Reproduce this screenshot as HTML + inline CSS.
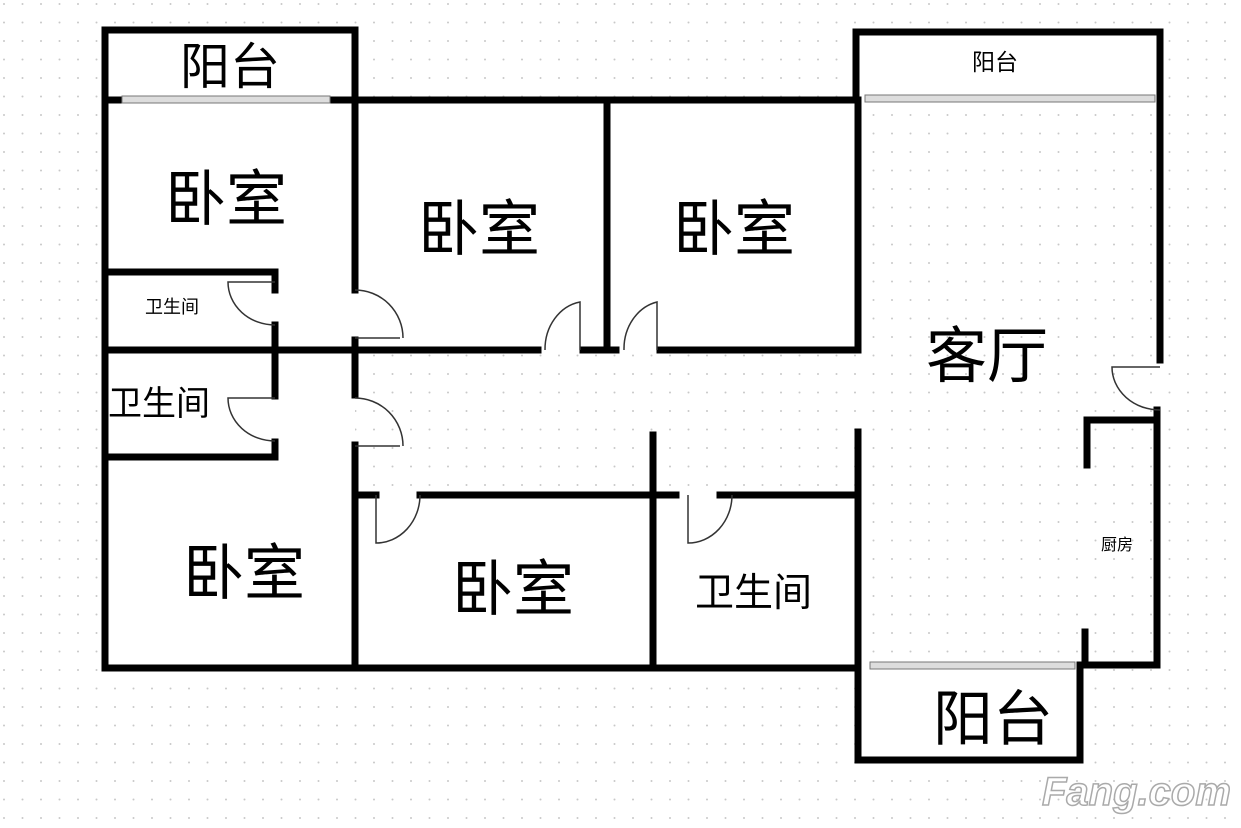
<!DOCTYPE html>
<html><head><meta charset="utf-8"><style>
html,body{margin:0;padding:0;background:#fff}
svg{display:block}
text{font-family:"Liberation Sans","Noto Sans CJK SC",sans-serif;fill:#000}
</style></head><body>
<svg width="1241" height="828" viewBox="0 0 1241 828" xmlns="http://www.w3.org/2000/svg">
<defs><pattern id="d" width="18.5" height="18.5" patternUnits="userSpaceOnUse"><circle cx="4" cy="4" r="1" fill="#c8c8c8"/></pattern></defs>
<rect width="1241" height="828" fill="#fff"/>
<rect width="1241" height="828" fill="url(#d)"/>
<g fill="#fff">
<rect x="105" y="30" width="250" height="638"/>
<rect x="355" y="100" width="503" height="250"/>
<rect x="355" y="495" width="503" height="173"/>
<rect x="858" y="32" width="302" height="68"/>
<rect x="858" y="665" width="222" height="95"/>
</g>
<g stroke="#000" stroke-width="7" fill="none" stroke-linecap="square">
<path d="M105,30 H355 V100"/>
<path d="M105,30 V668 H858"/>
<path d="M105,100 H858"/>
<path d="M856,100 V32 H1160 V360"/>
<path d="M1157,410 V665 H1080"/>
<path d="M1087,465 V420 H1157"/>
<path d="M1085,632 V665"/>
<path d="M105,272 H275 V290"/>
<path d="M275,325 V350"/>
<path d="M105,350 H538"/>
<path d="M583,350 H616"/>
<path d="M660,350 H858 V100"/>
<path d="M607,100 V350"/>
<path d="M355,100 V290"/>
<path d="M355,340 V395"/>
<path d="M355,445 V668"/>
<path d="M275,350 V396"/>
<path d="M275,442 V457 H105"/>
<path d="M360,495 H376"/>
<path d="M420,495 H676"/>
<path d="M720,495 H858"/>
<path d="M653,435 V668"/>
<path d="M858,432 V760 H1080 V665"/>
</g>
<g stroke="#333" stroke-width="1.5" fill="none">
<path d="M400,338 H355 M355,290 A48,48 0 0 1 403,338"/>
<path d="M400,446 H355 M355,398 A48,48 0 0 1 403,446"/>
<path d="M580,350 V302 A42,48 0 0 0 545,350"/>
<path d="M657,350 V302 A42,48 0 0 0 624,350"/>
<path d="M376,495 V543 A44,48 0 0 0 420,495"/>
<path d="M688,495 V543 A44,48 0 0 0 732,495"/>
<path d="M275,282 H228 A47,43 0 0 0 275,325"/>
<path d="M275,398 H228 A47,43 0 0 0 275,441"/>
<path d="M1160,367 H1112 A48,43 0 0 0 1160,410"/>
</g>
<g fill="#ddd" stroke="#777" stroke-width="1">
<rect x="122" y="96" width="208" height="7"/>
<rect x="865" y="95" width="290" height="7"/>
<rect x="870" y="662" width="205" height="7"/>
</g>
<text x="180" y="84" font-size="50">阳台</text>
<text x="972" y="70" font-size="23">阳台</text>
<text x="933" y="740" font-size="60">阳台</text>
<text x="165" y="220" font-size="61">卧室</text>
<text x="418" y="250" font-size="61">卧室</text>
<text x="673" y="250" font-size="61">卧室</text>
<text x="183" y="594" font-size="61">卧室</text>
<text x="452" y="610" font-size="61">卧室</text>
<text x="926" y="377" font-size="61">客厅</text>
<text x="145" y="313" font-size="18">卫生间</text>
<text x="108" y="415" font-size="34">卫生间</text>
<text x="695" y="606" font-size="39">卫生间</text>
<text x="1101" y="550" font-size="16">厨房</text>
<text x="1042" y="805" font-size="40" font-weight="bold" font-style="italic" stroke="#aaa" stroke-width="1.5" style="fill:#fff">Fang.com</text>
</svg>
</body></html>
